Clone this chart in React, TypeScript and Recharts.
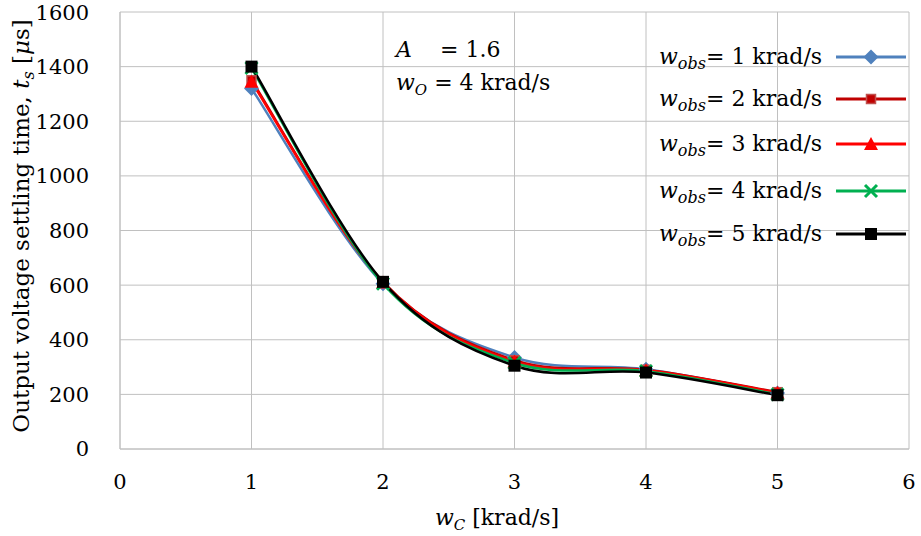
import { CartesianGrid, Line, LineChart, XAxis, YAxis } from "recharts";

const wc = [1, 2, 3, 4, 5];
const obs1 = [1320, 605, 335, 292, 205];
const obs2 = [1350, 612, 325, 290, 208];
const obs3 = [1345, 610, 320, 288, 206];
const obs4 = [1395, 605, 315, 285, 200];
const obs5 = [1400, 612, 305, 280, 197];
const xTicks = [0, 1, 2, 3, 4, 5, 6];
const yTicks = [0, 200, 400, 600, 800, 1000, 1200, 1400, 1600];
const legendLabels = ["1", "2", "3", "4", "5"];

const data = wc.map((x, i) => ({ x, s1: obs1[i], s2: obs2[i], s3: obs3[i], s4: obs4[i], s5: obs5[i] }));

const serif = "DejaVu Serif";

// Excel-like smoothing (Catmull-Rom through the points)
function smooth(context: any) {
  let pts: number[][] = [];
  return {
    areaStart() {},
    areaEnd() {},
    lineStart() {
      pts = [];
    },
    lineEnd() {
      if (!pts.length) return;
      context.moveTo(pts[0][0], pts[0][1]);
      for (let i = 0; i < pts.length - 1; i++) {
        const p0 = pts[i - 1] || pts[i];
        const p1 = pts[i];
        const p2 = pts[i + 1];
        const p3 = pts[i + 2] || p2;
        context.bezierCurveTo(
          p1[0] + (p2[0] - p0[0]) / 6,
          p1[1] + (p2[1] - p0[1]) / 6,
          p2[0] - (p3[0] - p1[0]) / 6,
          p2[1] - (p3[1] - p1[1]) / 6,
          p2[0],
          p2[1]
        );
      }
    },
    point(x: number, y: number) {
      pts.push([+x, +y]);
    },
  };
}

const series = [
  { key: "s1", color: "#4F81BD", marker: "diamond" },
  { key: "s2", color: "#C00000", marker: "smallSquare" },
  { key: "s3", color: "#FF0000", marker: "triangle" },
  { key: "s4", color: "#00B050", marker: "cross" },
  { key: "s5", color: "#000000", marker: "square" },
];

function Marker({ cx, cy, kind, color }: { cx: number; cy: number; kind: string; color: string }) {
  if (kind === "diamond")
    return <path d={`M${cx},${cy - 7.5} L${cx + 7.5},${cy} L${cx},${cy + 7.5} L${cx - 7.5},${cy} Z`} fill={color} />;
  if (kind === "smallSquare")
    return <rect x={cx - 4.5} y={cy - 4.5} width={9} height={9} fill="#C00000" stroke="#C0504D" strokeWidth={1.5} />;
  if (kind === "triangle")
    return <path d={`M${cx},${cy - 7} L${cx + 7},${cy + 6} L${cx - 7},${cy + 6} Z`} fill={color} />;
  if (kind === "cross")
    return (
      <path d={`M${cx - 6},${cy - 6} L${cx + 6},${cy + 6} M${cx + 6},${cy - 6} L${cx - 6},${cy + 6}`} stroke={color} strokeWidth={3} />
    );
  return <rect x={cx - 6} y={cy - 6} width={12} height={12} fill={color} />;
}

const tickStyle = { fill: "#000", fontSize: 21, fontFamily: serif };

export default function App() {
  return (
    <div style={{ position: "fixed", left: 0, top: 0, width: 921, height: 536, background: "#fff" }}>
      <LineChart width={921} height={536} data={data} margin={{ top: 12, right: 12, bottom: 0, left: 0 }}>
        <CartesianGrid stroke="#C0C0C0" strokeWidth={1} />
        <XAxis
          type="number"
          dataKey="x"
          domain={[0, 6]}
          ticks={xTicks}
          height={87}
          stroke="#C0C0C0"
          tickLine={false}
          tickMargin={19}
          tick={tickStyle}
        />
        <YAxis
          type="number"
          domain={[0, 1600]}
          ticks={yTicks}
          width={120}
          stroke="#C0C0C0"
          tickLine={false}
          tickMargin={25}
          tick={tickStyle}
        />
        {series.map((s) => (
          <Line
            key={s.key}
            dataKey={s.key}
            type={smooth as any}
            stroke={s.color}
            strokeWidth={2.5}
            isAnimationActive={false}
            dot={(p: any) => <Marker key={`${s.key}-${p.index}`} cx={p.cx} cy={p.cy} kind={s.marker} color={s.color} />}
            activeDot={false}
          />
        ))}
      </LineChart>
      <svg width={921} height={536} style={{ position: "absolute", left: 0, top: 0, pointerEvents: "none" }} fontFamily={serif}>
        <text x={396} y={57} fontSize={22}>
          <tspan fontStyle="italic">A</tspan>
          <tspan x={440}>= 1.6</tspan>
        </text>
        <text x={396} y={90} fontSize={22}>
          <tspan fontStyle="italic">w</tspan>
          <tspan fontStyle="italic" fontSize={15} dy={5}>O</tspan>
          <tspan dy={-5}> = 4 krad/s</tspan>
        </text>
        {series.map((s, i) => {
          const y = [57, 99, 144, 191, 234][i];
          return (
            <g key={s.key}>
              <text x={659} y={y + 7} fontSize={22}>
                <tspan fontStyle="italic">w</tspan>
                <tspan fontStyle="italic" fontSize={16} dy={5}>obs</tspan>
                <tspan dy={-5}>= {legendLabels[i]} krad/s</tspan>
              </text>
              <line x1={836} x2={906} y1={y} y2={y} stroke={s.color} strokeWidth={3} />
              <Marker cx={871} cy={y} kind={s.marker} color={s.color} />
            </g>
          );
        })}
        <text x={497} y={525} fontSize={22} textAnchor="middle">
          <tspan fontStyle="italic">w</tspan>
          <tspan fontStyle="italic" fontSize={15} dy={5}>C</tspan>
          <tspan dy={-5}> [krad/s]</tspan>
        </text>
        <text transform="translate(29,226) rotate(-90)" fontSize={23} textAnchor="middle">
          Output voltage settling time, <tspan fontStyle="italic">t</tspan>
          <tspan fontStyle="italic" fontSize={16} dy={5}>s</tspan>
          <tspan dy={-5}> [</tspan>
          <tspan fontStyle="italic">μ</tspan>
          <tspan>s]</tspan>
        </text>
      </svg>
    </div>
  );
}
